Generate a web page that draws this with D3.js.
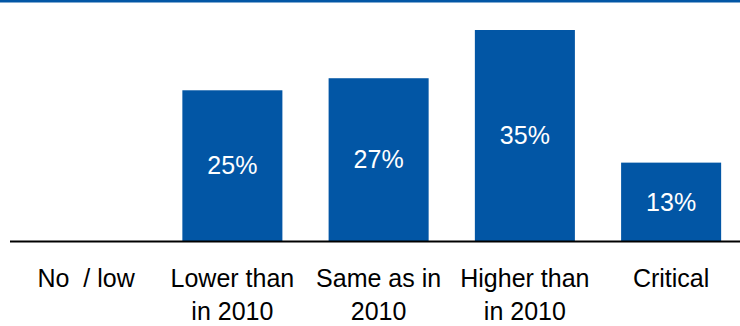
<!DOCTYPE html>
<html>
<head>
<meta charset="utf-8">
<script src="https://cdn.jsdelivr.net/npm/d3@7"></script>
<style>
  body { margin: 0; background: #fff; }
  svg { display: block; font-family: "Liberation Sans", Arial, sans-serif; }
  text { white-space: pre; }
</style>
</head>
<body>
<svg id="chart"></svg>
<script>
let categories = ["No  / low", "Lower than in 2010", "Same as in 2010", "Higher than in 2010", "Critical"];
let tickLines = [["No  / low"], ["Lower than", "in 2010"], ["Same as in", "2010"], ["Higher than", "in 2010"], ["Critical"]];
let values = [0, 25, 27, 35, 13];
let valueLabels = ["", "25%", "27%", "35%", "13%"];

let width = 740, height = 326;
let blue = "#0256a5";

let svg = d3.select("#chart")
  .attr("width", width)
  .attr("height", height);

// top rule
svg.append("rect")
  .attr("x", 0).attr("y", 0)
  .attr("width", width).attr("height", 2.5)
  .attr("fill", blue);

let x = d3.scaleBand()
  .domain(categories)
  .range([13, 744.25])
  .paddingInner(0.316)
  .paddingOuter(0.158);

let y = d3.scaleLinear().domain([0, 35]).range([241, 30]);

svg.selectAll(".bar")
  .data(categories)
  .enter().append("rect")
    .attr("class", "bar")
    .attr("x", function(d) { return x(d); })
    .attr("width", x.bandwidth())
    .attr("y", function(d, i) { return y(values[i]); })
    .attr("height", function(d, i) { return y(0) - y(values[i]); })
    .attr("fill", blue);

svg.selectAll(".val")
  .data(categories)
  .enter().append("text")
    .attr("class", "val")
    .attr("x", function(d) { return x(d) + x.bandwidth() / 2; })
    .attr("y", function(d, i) { return (y(values[i]) + y(0)) / 2; })
    .attr("dy", "0.35em")
    .attr("text-anchor", "middle")
    .attr("fill", "#fff")
    .attr("font-size", 25)
    .text(function(d, i) { return valueLabels[i]; });

// baseline
svg.append("line")
  .attr("x1", 10).attr("x2", width)
  .attr("y1", y(0) + 0.5).attr("y2", y(0) + 0.5)
  .attr("stroke", "#000")
  .attr("stroke-width", 2);

// category axis
let axis = svg.append("g")
  .attr("transform", "translate(0," + y(0) + ")")
  .call(d3.axisBottom(x).tickSize(0).tickPadding(0));
axis.select(".domain").remove();
axis.selectAll(".tick text")
  .attr("font-size", 25)
  .attr("font-family", "Liberation Sans, Arial, sans-serif")
  .attr("fill", "#000")
  .attr("y", 0)
  .attr("dy", null)
  .each(function(d, i) {
    let t = d3.select(this).text("");
    tickLines[i].forEach(function(line, j) {
      t.append("tspan")
        .attr("x", 0)
        .attr("y", 46 + j * 33)
        .text(line);
    });
  });
</script>
</body>
</html>
